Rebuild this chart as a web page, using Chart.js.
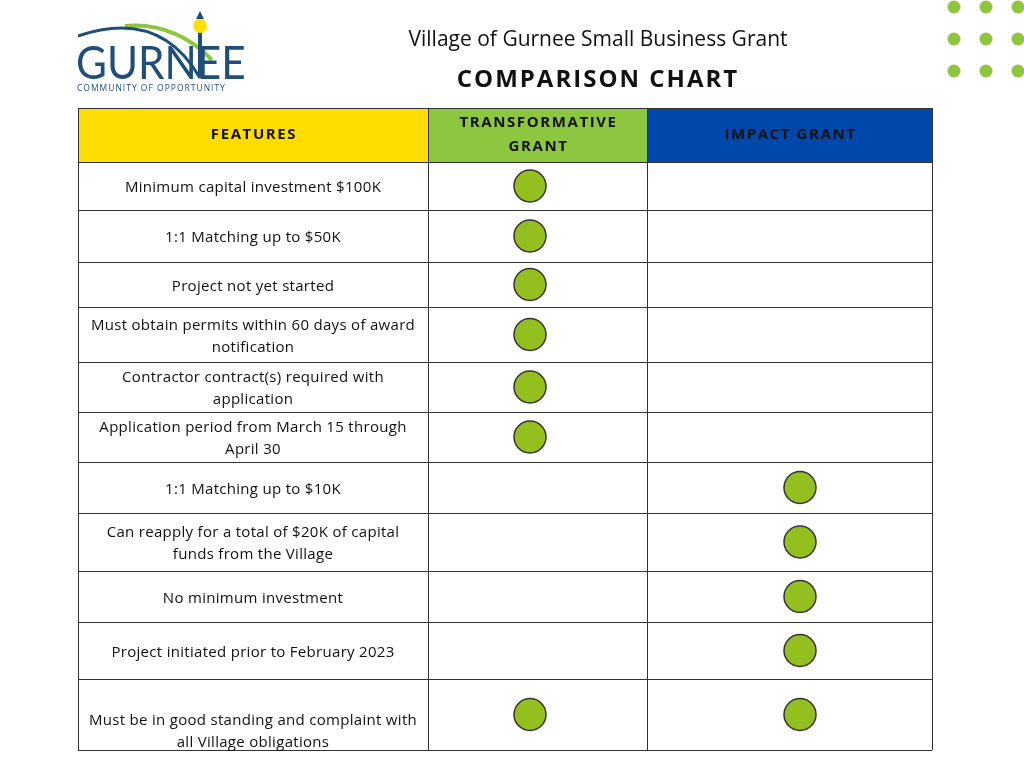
<!DOCTYPE html>
<html><head><meta charset="utf-8">
<script src="https://cdn.jsdelivr.net/npm/chart.js@4/dist/chart.umd.min.js"></script>
<style>html,body{margin:0;padding:0;background:#fff}#c{display:block}</style>
</head><body>
<canvas id="c" width="1024" height="768"></canvas>
<script>
const title = "Village of Gurnee Small Business Grant";
const subtitle = "COMPARISON CHART";
const columns = ["FEATURES", "TRANSFORMATIVE\nGRANT", "IMPACT GRANT"];
const features = [
  "Minimum capital investment $100K",
  "1:1 Matching up to $50K",
  "Project not yet started",
  "Must obtain permits within 60 days of award\nnotification",
  "Contractor contract(s) required with\napplication",
  "Application period from March 15 through\nApril 30",
  "1:1 Matching up to $10K",
  "Can reapply for a total of $20K of capital\nfunds from the Village",
  "No minimum investment",
  "Project initiated prior to February 2023",
  "Must be in good standing and complaint with\nall Village obligations"
];
const transformative = [1,1,1,1,1,1,0,0,0,0,1];
const impact = [0,0,0,0,0,0,1,1,1,1,1];

// layout (table units = pixels inside the table)
const colEdges = [0, 350, 569, 854];
const rowEdges = [0, 54, 102, 154, 199, 254, 304, 354, 405, 463, 514, 571, 642];
const textShift = [2,2,2,2,2,2,2,2,2,2,17];
const circleX = [452, 722];
const headColors = ["#FFDD00", "#8DC63F", "#0047AB"];

const rowCenter = i => (rowEdges[i+1] + rowEdges[i+2]) / 2;
const tPts = [], iPts = [];
features.forEach((f, i) => {
  if (transformative[i]) tPts.push({x: circleX[0], y: rowCenter(i)});
  if (impact[i]) iPts.push({x: circleX[1], y: rowCenter(i)});
});

const tablePlugin = {
  id: 'table',
  beforeDatasetsDraw(chart) {
    const ctx = chart.ctx, xs = chart.scales.x, ys = chart.scales.y;
    const X = v => xs.getPixelForValue(v), Y = v => ys.getPixelForValue(v);
    for (let c = 0; c < 3; c++) {
      ctx.fillStyle = headColors[c];
      ctx.fillRect(X(colEdges[c]), Y(rowEdges[0]), X(colEdges[c+1]) - X(colEdges[c]), Y(rowEdges[1]) - Y(rowEdges[0]));
    }
    ctx.strokeStyle = "#333"; ctx.lineWidth = 1;
    ctx.beginPath();
    rowEdges.forEach(r => { const y = Math.round(Y(r)) + 0.5; ctx.moveTo(X(0), y); ctx.lineTo(X(854), y); });
    colEdges.forEach(c => { const x = Math.round(X(c)) + 0.5; ctx.moveTo(x, Y(0)); ctx.lineTo(x, Y(642)); });
    ctx.stroke();
    ctx.fillStyle = "#111"; ctx.textAlign = "center"; ctx.textBaseline = "middle";
    ctx.font = "bold 15px 'Open Sans'"; ctx.letterSpacing = "1.6px";
    columns.forEach((t, c) => {
      const lines = t.split("\n"), cx = X((colEdges[c] + colEdges[c+1]) / 2) + 1, cy = Y((rowEdges[0] + rowEdges[1]) / 2);
      lines.forEach((l, k) => ctx.fillText(l, cx, cy + (k - (lines.length - 1) / 2) * 24));
    });
    ctx.letterSpacing = "0.3px";
    ctx.font = "15px 'Open Sans'"; ctx.fillStyle = "#111";
    features.forEach((f, i) => {
      const lines = f.split("\n"), cx = X(175), cy = Y(rowCenter(i)) + textShift[i];
      lines.forEach((l, k) => ctx.fillText(l, cx, cy + (k - (lines.length - 1) / 2) * 22));
    });
    ctx.letterSpacing = "0px";
  },
  afterDraw(chart) {
    const ctx = chart.ctx;
    ctx.save();
    ctx.textAlign = "center"; ctx.textBaseline = "middle"; ctx.fillStyle = "#111";
    ctx.font = "21px 'Open Sans'"; ctx.fillText(title, 598, 40);
    ctx.font = "bold 24px 'Open Sans'"; ctx.letterSpacing = "2px"; ctx.fillText(subtitle, 598, 80);
    ctx.letterSpacing = "0px";
    ctx.fillStyle = "#8DC63F";
    [7, 39, 71].forEach(y => [954, 986, 1018].forEach(x => { ctx.beginPath(); ctx.arc(x, y, 6.5, 0, Math.PI*2); ctx.fill(); }));
    // logo
    ctx.lineWidth = 4; ctx.strokeStyle = "#8DC63F";
    ctx.beginPath(); ctx.moveTo(125, 26); ctx.quadraticCurveTo(175, 22, 212, 60); ctx.stroke();
    ctx.lineWidth = 3; ctx.strokeStyle = "#1F4E79";
    ctx.beginPath(); ctx.moveTo(78, 36); ctx.quadraticCurveTo(160, 8, 200, 78); ctx.stroke();
    ctx.fillStyle = "#1F4E79"; ctx.fillRect(198, 30, 4, 48);
    ctx.fillStyle = "#FFE000"; ctx.beginPath(); ctx.arc(200, 26, 7, 0, Math.PI*2); ctx.fill();
    ctx.fillStyle = "#1F4E79"; ctx.beginPath(); ctx.moveTo(196, 19); ctx.lineTo(200, 11); ctx.lineTo(204, 19); ctx.fill();
    ctx.font = "46px 'Lato'"; ctx.textAlign = "left"; ctx.textBaseline = "alphabetic";
    ctx.save(); ctx.scale(0.92, 1); ctx.fillText("GURNEE", 76/0.92, 79); ctx.restore();
    ctx.font = "8.5px 'Open Sans'"; ctx.letterSpacing = "1px"; ctx.fillText("COMMUNITY OF OPPORTUNITY", 77, 91);
    ctx.restore();
  }
};

new Chart(document.getElementById('c'), {
  type: 'scatter',
  data: { datasets: [
    { label: columns[1], data: tPts, pointRadius: 16, pointHoverRadius: 16, backgroundColor: "#93C01F", borderColor: "#333", borderWidth: 1.5 },
    { label: columns[2], data: iPts, pointRadius: 16, pointHoverRadius: 16, backgroundColor: "#93C01F", borderColor: "#333", borderWidth: 1.5 }
  ]},
  options: {
    responsive: false, animation: false, events: [],
    layout: { padding: { left: 78, right: 92, top: 108, bottom: 18 } },
    plugins: { legend: { display: false }, tooltip: { enabled: false } },
    scales: {
      x: { type: 'linear', min: 0, max: 854, display: false },
      y: { type: 'linear', min: 0, max: 642, reverse: true, display: false }
    }
  },
  plugins: [tablePlugin]
});
</script>
</body></html>
